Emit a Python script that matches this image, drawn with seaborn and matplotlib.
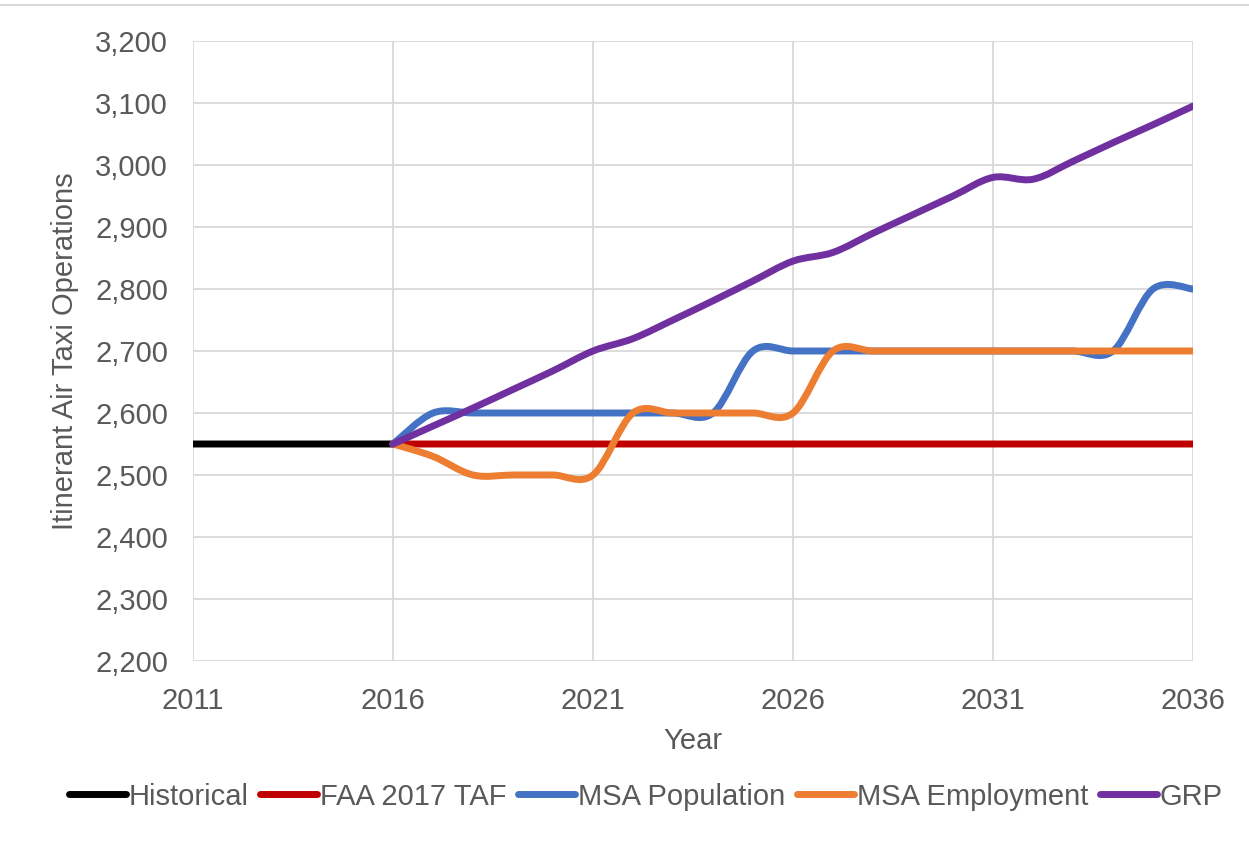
import numpy as np
import pandas as pd
import matplotlib
matplotlib.use("Agg")
import matplotlib.pyplot as plt
from matplotlib.path import Path
from matplotlib.patches import PathPatch
from matplotlib.lines import Line2D
from matplotlib.ticker import FuncFormatter, MultipleLocator
import seaborn as sns

# ---- data -------------------------------------------------------------
hist_years = [2011, 2012, 2013, 2014, 2015, 2016]
historical = [2550, 2550, 2550, 2550, 2550, 2550]

fc_years = list(range(2016, 2037))
faa_taf = [2550] * 21
msa_population = [2550, 2600, 2600, 2600, 2600, 2600, 2600, 2600, 2600, 2700,
                  2700, 2700, 2700, 2700, 2700, 2700, 2700, 2700, 2700, 2800, 2800]
msa_employment = [2550, 2530, 2500, 2500, 2500, 2500, 2600, 2600, 2600, 2600,
                  2600, 2700, 2700, 2700, 2700, 2700, 2700, 2700, 2700, 2700, 2700]
grp = [2550, 2579, 2608, 2638, 2668, 2700, 2720, 2750, 2781, 2813,
       2845, 2859, 2890, 2920, 2950, 2980, 2977, 3006, 3036, 3065, 3095]

series_names = ["Historical", "FAA 2017 TAF", "MSA Population", "MSA Employment", "GRP"]
series_colors = ["#000000", "#C00000", "#4472C4", "#ED7D31", "#7030A0"]
x_ticks = [2011, 2016, 2021, 2026, 2031, 2036]

frames = [
    pd.DataFrame({"Year": hist_years, "Operations": historical, "Series": series_names[0]}),
    pd.DataFrame({"Year": fc_years, "Operations": faa_taf, "Series": series_names[1]}),
    pd.DataFrame({"Year": fc_years, "Operations": msa_population, "Series": series_names[2]}),
    pd.DataFrame({"Year": fc_years, "Operations": msa_employment, "Series": series_names[3]}),
    pd.DataFrame({"Year": fc_years, "Operations": grp, "Series": series_names[4]}),
]
df = pd.concat(frames, ignore_index=True)

# ---- style ------------------------------------------------------------
sns.set_theme(style="whitegrid")
plt.rcParams["font.family"] = ["Liberation Sans", "DejaVu Sans"]
TEXT = "#595959"
GRID = "#D9D9D9"
LW = 5.0
FS = 21


def smooth_path(xs, ys):
    """Cubic Bezier path through the points (cardinal spline smoothing)."""
    pts = np.column_stack([xs, ys]).astype(float)
    n = len(pts)
    verts = [pts[0]]
    codes = [Path.MOVETO]
    for i in range(n - 1):
        p0 = pts[max(i - 1, 0)]
        p1 = pts[i]
        p2 = pts[i + 1]
        p3 = pts[min(i + 2, n - 1)]
        verts += [p1 + (p2 - p0) / 6.0, p2 - (p3 - p1) / 6.0, p2]
        codes += [Path.CURVE4] * 3
    return Path(verts, codes)


fig = plt.figure(figsize=(12.49, 8.65), dpi=100)
fig.patch.set_facecolor("white")
ax = fig.add_axes([193 / 1249, 1 - 661 / 865, 1000 / 1249, 620 / 865])

for name, color in zip(series_names, series_colors):
    sub = df[df["Series"] == name]
    sns.lineplot(data=sub, x="Year", y="Operations", color=color,
                 linewidth=LW, ax=ax, legend=False)
    line = ax.lines[-1]
    xs, ys = line.get_xdata(), line.get_ydata()
    line.set_visible(False)
    ax.add_patch(PathPatch(smooth_path(xs, ys), facecolor="none", edgecolor=color,
                           linewidth=LW, capstyle="round", joinstyle="round",
                           zorder=3))

ax.set_xlim(2011, 2036)
ax.set_ylim(2200, 3200)
ax.set_xticks(x_ticks)
ax.yaxis.set_major_locator(MultipleLocator(100))
ax.yaxis.set_major_formatter(FuncFormatter(lambda v, p: f"{int(round(v)):,}"))

ax.grid(True, color=GRID, linewidth=1.3)
for s in ax.spines.values():
    s.set_visible(False)
ax.set_axisbelow(True)

ax.tick_params(axis="x", length=0, pad=18.5, labelsize=FS, labelcolor=TEXT)
ax.tick_params(axis="y", length=0, pad=18, labelsize=FS, labelcolor=TEXT)

ax.set_xlabel("Year", fontsize=FS, color=TEXT)
ax.xaxis.set_label_coords(0.5, -0.106)
ax.set_ylabel("Itinerant Air Taxi Operations", fontsize=FS, color=TEXT)
ax.yaxis.set_label_coords(-0.114, 0.5)

handles = [Line2D([0], [0], color=c, linewidth=LW, solid_capstyle="round")
           for c in series_colors]
fig.legend(handles, series_names, loc="center", bbox_to_anchor=(0.517, 0.079),
           ncol=5, frameon=False, fontsize=FS, handlelength=1.95,
           handletextpad=0.1, columnspacing=0.4, labelcolor=TEXT)

# chart-area border line along the top edge
fig.add_artist(Line2D([0, 1], [1 - 4.5 / 865] * 2, transform=fig.transFigure,
                      color=GRID, linewidth=1.5))

fig.savefig("out.png", dpi=100)
